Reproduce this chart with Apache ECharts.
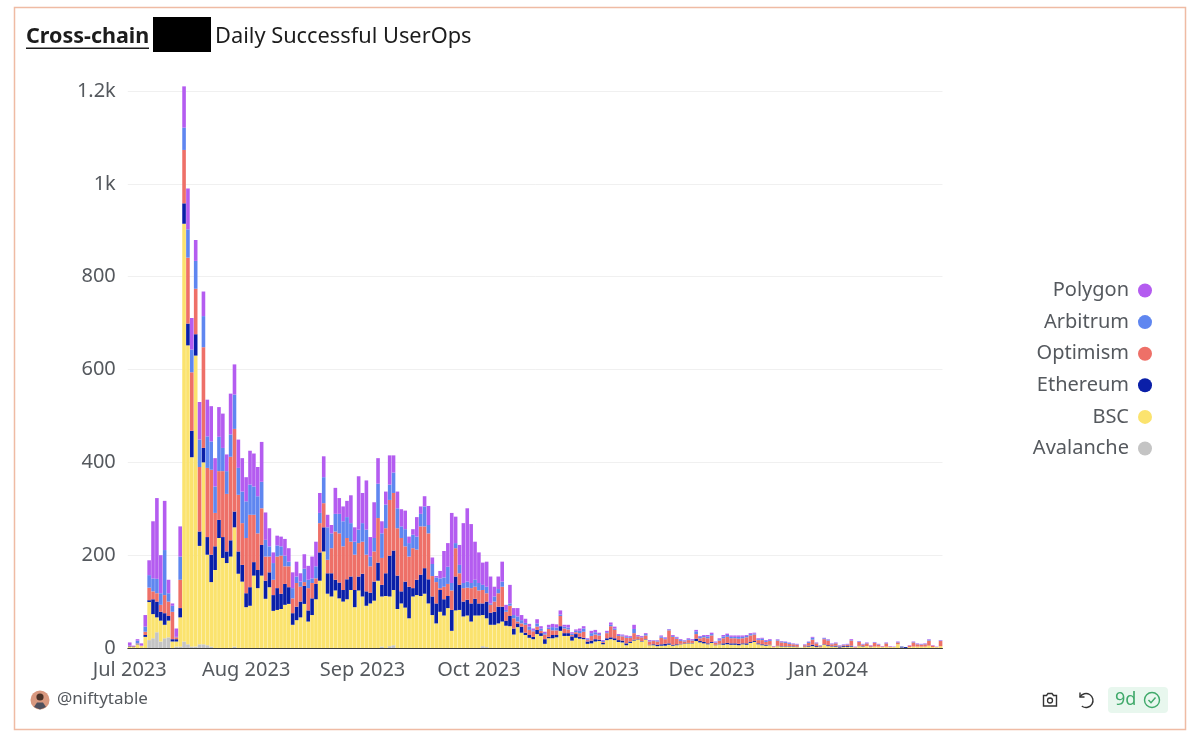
<!DOCTYPE html>
<html>
<head>
<meta charset="utf-8">
<title>Cross-chain Daily Successful UserOps</title>
<script src="https://cdn.jsdelivr.net/npm/echarts@6/dist/echarts.min.js"></script>
<style>
html, body { margin: 0; padding: 0; background: #fff; }
#chart { width: 1199px; height: 742px; }
</style>
</head>
<body>
<div id="chart"></div>
<script>
// tick labels, and the bar each one sits under
var monthLabels = ['Jul 2023', 'Aug 2023', 'Sep 2023', 'Oct 2023', 'Nov 2023', 'Dec 2023', 'Jan 2024'];
var monthBars = [0, 30, 60, 90, 120, 150, 180];
var barCount = 210;

// daily values, ten days per line
var avalanche = [
    0,0,0,0,0,17,21,34,14,21,
    23,0,3,3,14,8,3,3,8,8,
    6,3,0,0,0,0,0,3,0,0,
    0,0,0,0,0,0,0,0,0,0,
    0,0,0,0,0,0,0,0,0,0,
    0,0,0,0,0,0,0,0,0,0,
    0,0,0,0,0,3,0,4,6,0,
    0,0,0,0,0,0,0,0,0,0,
    0,0,0,0,0,0,0,0,0,0,
    0,4,2,0,0,0,0,0,0,0,
    0,0,0,0,0,0,0,0,0,0,
    0,0,0,0,0,0,0,0,0,0,
    0,0,0,0,0,0,0,0,0,0,
    0,0,0,0,0,0,0,0,0,0,
    0,0,0,0,0,0,0,0,0,0,
    0,0,0,0,0,0,0,0,0,0,
    0,0,0,0,0,0,0,0,0,0,
    0,0,0,0,0,0,0,0,0,0,
    0,0,0,0,0,0,0,0,0,0,
    0,0,0,0,0,0,0,0,0,0,
    0,0,0,0,0,0,0,0,0,0
];
var bsc = [
    3,2,8,5,24,82,52,32,45,29,
    36,14,11,63,900,644,408,627,212,392,
    195,139,168,237,194,183,197,257,160,143,
    88,91,156,129,156,106,131,80,82,84,
    93,95,50,60,66,95,57,71,105,145,
    208,117,111,124,107,100,105,125,88,124,
    111,91,96,102,145,108,112,107,119,84,
    96,87,64,111,114,112,117,96,71,53,
    78,70,86,37,81,82,68,70,57,70,
    70,67,62,50,50,53,57,48,47,29,
    45,33,28,22,19,30,26,9,21,21,
    23,37,26,26,16,22,20,19,9,10,
    14,15,8,17,19,17,13,12,6,11,
    16,18,14,18,6,6,4,5,5,7,
    5,6,8,9,10,10,15,12,10,8,
    11,6,8,7,8,7,7,6,8,7,
    11,13,8,6,5,6,2,4,3,3,
    3,3,2,1,2,3,4,2,2,7,
    4,3,3,1,2,2,3,1,4,3,
    4,2,3,3,2,3,2,2,8,1,
    0,2,3,3,3,3,5,2,2,4
];
var ethereum = [
    1,1,1,0,4,4,32,34,19,25,
    10,5,5,20,44,47,57,46,31,31,
    38,59,51,39,45,25,35,34,48,36,
    30,40,29,39,66,39,32,34,47,33,
    45,36,25,29,34,39,24,36,33,61,
    52,44,50,23,34,25,43,29,37,30,
    49,31,23,41,39,25,49,88,85,72,
    26,56,68,18,33,46,55,52,40,43,
    47,35,26,45,73,54,32,34,39,36,
    26,25,36,26,28,36,32,11,22,13,
    8,13,5,6,5,9,6,10,3,7,
    5,10,6,6,9,8,4,3,5,6,
    5,3,3,4,4,4,4,4,4,3,
    2,1,1,1,1,2,3,3,4,3,
    2,2,1,1,1,1,5,3,3,2,
    2,1,1,3,3,3,3,3,2,3,
    2,2,2,2,2,1,0,1,1,1,
    1,1,1,0,1,2,3,2,1,1,
    2,1,2,2,2,2,2,0,1,1,
    0,1,0,0,0,0,0,0,0,2,
    2,0,0,0,0,0,0,0,0,0
];
var optimism = [
    1,1,1,0,7,27,17,18,15,39,
    31,59,4,61,115,142,126,98,139,217,
    149,183,72,105,142,124,180,178,122,90,
    119,156,102,79,79,52,34,33,68,82,
    38,45,32,51,32,8,48,33,12,63,
    52,29,54,104,106,94,89,75,76,72,
    69,79,57,65,96,58,97,120,124,102,
    115,76,65,86,65,104,90,99,44,46,
    4,27,26,42,61,25,29,26,33,26,
    28,29,18,17,22,29,43,19,22,22,
    4,7,17,11,12,7,5,10,17,10,
    10,22,10,8,3,4,8,13,3,10,
    10,9,2,11,24,18,9,9,12,8,
    14,6,8,8,7,7,7,14,10,28,
    17,12,6,4,6,5,10,6,10,11,
    14,4,7,11,13,11,11,11,11,13,
    14,14,7,9,6,8,1,11,8,7,
    5,4,4,0,3,6,11,6,2,11,
    10,4,5,1,2,3,11,1,8,3,
    6,2,8,4,1,7,1,0,4,0,
    0,3,9,5,4,5,11,3,0,11
];
var arbitrum = [
    0,0,6,0,11,27,28,31,25,97,
    18,13,1,50,48,61,49,60,59,67,
    68,61,57,74,50,49,48,74,58,68,
    79,65,61,80,57,36,22,36,24,20,
    23,10,22,14,11,29,18,10,26,22,
    56,70,32,38,42,54,45,40,28,29,
    40,54,21,29,74,53,51,33,44,43,
    25,37,29,29,28,27,43,18,26,10,
    21,20,37,16,11,18,11,13,11,15,
    16,11,14,3,11,9,11,4,5,7,
    11,7,4,7,2,7,5,3,3,7,
    6,3,4,4,3,3,5,7,2,6,
    5,3,2,2,3,3,2,2,2,2,
    9,1,1,3,1,1,2,3,2,2,
    2,2,2,2,2,1,6,3,3,4,
    3,1,3,4,4,3,3,4,3,3,
    3,2,2,3,2,2,0,2,2,2,
    2,1,1,0,1,2,4,1,1,2,
    2,1,1,1,1,1,1,0,1,1,
    1,0,1,1,0,1,0,0,1,0,
    0,0,1,1,1,1,2,0,0,1
];
var polygon = [
    7,1,3,5,25,32,123,174,82,106,
    29,5,18,65,89,88,68,45,81,53,
    79,76,61,64,74,36,88,65,61,72,
    52,73,71,63,86,59,39,23,21,21,
    36,29,34,32,18,31,30,47,53,43,
    45,27,18,56,34,32,35,60,31,115,
    65,106,42,77,55,26,28,63,37,36,
    37,40,14,12,42,16,22,41,14,3,
    16,57,51,151,57,43,129,158,127,82,
    66,48,54,58,21,27,43,11,40,15,
    18,11,9,6,4,9,5,3,6,7,
    7,9,4,6,3,3,5,5,2,5,
    5,3,2,3,5,4,2,2,3,2,
    9,2,2,2,2,1,1,2,2,1,
    2,2,2,1,2,2,3,2,2,3,
    3,2,2,3,3,3,3,3,3,2,
    2,2,2,2,2,2,1,1,1,1,
    1,1,1,0,1,1,2,1,0,1,
    1,1,1,1,1,1,2,1,1,1,
    1,1,1,1,1,1,1,1,1,0,
    0,1,1,1,1,1,1,1,1,1
];

var FONT = '"Noto Sans", sans-serif';
var GREY = '#55595e';

// x axis categories: blank except under a month label
var categories = [];
for (var i = 0; i < barCount; i++) {
    var m = monthBars.indexOf(i);
    categories.push(m >= 0 ? monthLabels[m] : '');
}

function make_series(name, values, color) {
    return {
        name: name,
        type: 'bar',
        stack: 'ops',
        data: values,
        clip: false,
        barCategoryGap: '7%',
        itemStyle: { color: color },
        emphasis: { disabled: true },
        animation: false
    };
}

var chart = echarts.init(document.getElementById('chart'), null, { renderer: 'canvas' });

chart.setOption({
    animation: false,
    backgroundColor: '#fff',
    textStyle: { fontFamily: FONT },
    grid: { left: 127.8, top: 91, width: 814.7, height: 557 },
    legend: {
        orient: 'vertical',
        align: 'right',
        right: 42,
        top: 274.5,
        icon: 'circle',
        itemWidth: 14,
        itemHeight: 14,
        itemGap: 9.6,
        selectedMode: false,
        textStyle: { fontFamily: FONT, fontSize: 20, color: GREY, padding: [0, 4, 0, 0], lineHeight: 22 },
        data: ['Polygon', 'Arbitrum', 'Optimism', 'Ethereum', 'BSC', 'Avalanche']
    },
    xAxis: {
        type: 'category',
        data: categories,
        axisTick: { show: false },
        axisLine: { lineStyle: { color: '#3c3c3c', width: 1 } },
        axisLabel: { interval: 0, fontFamily: FONT, fontSize: 20, color: GREY, margin: 12 }
    },
    yAxis: {
        type: 'value',
        min: 0,
        max: 1200,
        interval: 200,
        axisLine: { show: false },
        axisTick: { show: false },
        splitLine: { lineStyle: { color: '#f0f0f0', width: 1 } },
        axisLabel: {
            fontFamily: FONT,
            fontSize: 20,
            color: GREY,
            margin: 12,
            formatter: function (v) { return v >= 1000 ? (v / 1000) + 'k' : String(v); }
        }
    },
    series: [
        make_series('Avalanche', avalanche, '#c4c4c4'),
        make_series('BSC', bsc, '#fbe36e'),
        make_series('Ethereum', ethereum, '#0a1fa8'),
        make_series('Optimism', optimism, '#ee7068'),
        make_series('Arbitrum', arbitrum, '#5f86f0'),
        make_series('Polygon', polygon, '#b45cf0')
    ],
    // card frame, title and footer are page furniture, not data
    graphic: [
        { type: 'rect', silent: true, z: -1, shape: { x: 14.5, y: 7.5, width: 1171, height: 722 },
          style: { fill: '#fff', stroke: '#efbba4', lineWidth: 1.5 } },
        { type: 'text', x: 26, y: 26, style: { text: 'Cross-chain', font: 'bold 21.5px ' + FONT, fill: '#1c1c1c' } },
        { type: 'rect', shape: { x: 26, y: 47.5, width: 123, height: 1.6 }, style: { fill: '#1c1c1c' } },
        { type: 'rect', shape: { x: 153, y: 17, width: 58, height: 35 }, style: { fill: '#000' } },
        { type: 'text', x: 215, y: 26, style: { text: 'Daily Successful UserOps', font: '21.8px ' + FONT, fill: '#1c1c1c' } },

        { type: 'circle', shape: { cx: 40, cy: 700, r: 9.5 }, style: { fill: '#d9987f' } },
        { type: 'circle', shape: { cx: 40, cy: 697, r: 3.6 }, style: { fill: '#4a3228' } },
        { type: 'polygon', shape: { points: [[34, 707], [37, 702.5], [43, 702.5], [46, 707], [40, 709.5]] }, style: { fill: '#50505e' } },
        { type: 'text', x: 57, y: 691, style: { text: '@niftytable', font: '17px ' + FONT, fill: GREY } },

        // camera
        { type: 'polygon', shape: { points: [[1043.5, 695.5], [1046.5, 695.5], [1048, 693.5], [1052, 693.5], [1053.5, 695.5], [1056.5, 695.5], [1056.5, 706], [1043.5, 706]] },
          style: { fill: 'none', stroke: '#333', lineWidth: 1.4 } },
        { type: 'circle', shape: { cx: 1050, cy: 700.5, r: 2.5 }, style: { fill: 'none', stroke: '#333', lineWidth: 1.3 } },
        // undo arrow
        { type: 'arc', shape: { cx: 1086, cy: 700.5, r: 7, startAngle: -2.6, endAngle: 2.2, clockwise: true },
          style: { fill: 'none', stroke: '#333', lineWidth: 1.4 } },
        { type: 'polyline', shape: { points: [[1080, 692.5], [1080, 697], [1084.5, 697]] }, style: { fill: 'none', stroke: '#333', lineWidth: 1.4 } },
        // freshness badge
        { type: 'rect', shape: { x: 1108, y: 687, width: 60, height: 26, r: 4 }, style: { fill: '#e8f7ee' } },
        { type: 'text', x: 1115, y: 691, style: { text: '9d', font: '18px ' + FONT, fill: '#3fa96a' } },
        { type: 'circle', shape: { cx: 1152, cy: 700, r: 7.5 }, style: { fill: 'none', stroke: '#3fa96a', lineWidth: 1.4 } },
        { type: 'polyline', shape: { points: [[1148.5, 700], [1151, 702.8], [1155.5, 697.5]] }, style: { fill: 'none', stroke: '#3fa96a', lineWidth: 1.4 } }
    ]
});
</script>
</body>
</html>
